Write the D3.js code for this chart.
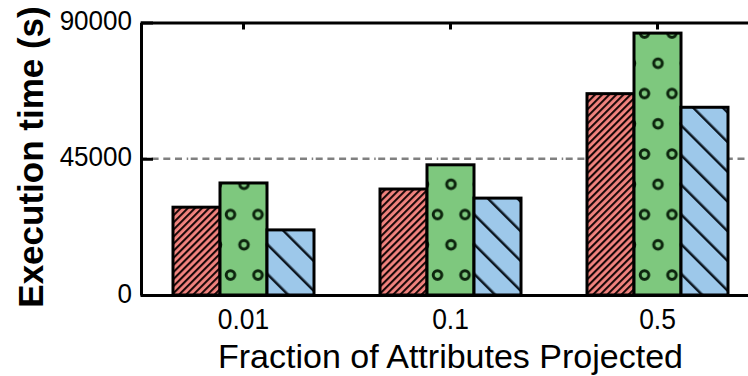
<!DOCTYPE html>
<html>
<head>
<meta charset="utf-8">
<script src="https://cdn.jsdelivr.net/npm/d3@7"></script>
<style>
  html, body { margin: 0; padding: 0; background: #fff; }
  svg { display: block; }
  text { font-family: "Liberation Sans", Arial, sans-serif; fill: #000; }
</style>
</head>
<body>
<svg id="chart" width="748" height="376"></svg>
<script>
// Categories on the x axis
const categories = ["0.01", "0.1", "0.5"];
// Series keys (one bar per series in each group)
const series = ["A", "B", "C"];
// Execution time in seconds for each series, per category
const valuesA = [29000, 35000, 66500];
const valuesB = [37000, 43000, 86500];
const valuesC = [21500, 32000, 62000];
// Y axis tick values
const yTicks = [0, 45000, 90000];
const yGrid = [45000];

const fills = { A: "#F3847F", B: "#7EC87E", C: "#9DC8EA" };
const patternIds = { A: "hatchFwd", B: "rings", C: "hatchBack" };

const seriesValues = { A: valuesA, B: valuesB, C: valuesC };
const rows = categories.map((c, i) => ({
  category: c,
  bars: series.map(s => ({ key: s, value: seriesValues[s][i] }))
}));

const svg = d3.select("#chart");

const plotLeft = 141, plotTop = 22.5, plotBottom = 295;
const x0 = d3.scaleBand().domain(categories).range([140, 761]);
const groupWidth = 141;
const x1 = d3.scaleBand().domain(series)
  .range([(x0.bandwidth() - groupWidth) / 2, (x0.bandwidth() + groupWidth) / 2]);
const y = d3.scaleLinear().domain([0, 90000]).range([plotBottom, plotTop]);

// Fill patterns
const defs = svg.append("defs");

const pA = defs.append("pattern").attr("id", "hatchFwd")
  .attr("patternUnits", "userSpaceOnUse")
  .attr("width", 5).attr("height", 10)
  .attr("patternTransform", "rotate(45)");
pA.append("rect").attr("width", 5).attr("height", 10).attr("fill", fills.A);
pA.append("rect").attr("width", 2.1).attr("height", 10).attr("fill", "#1a0808");

const pC = defs.append("pattern").attr("id", "hatchBack")
  .attr("patternUnits", "userSpaceOnUse")
  .attr("width", 21).attr("height", 10)
  .attr("patternTransform", "rotate(-45)");
pC.append("rect").attr("width", 21).attr("height", 10).attr("fill", fills.C);
pC.append("rect").attr("width", 2.5).attr("height", 10).attr("fill", "#0c1620");

const pB = defs.append("pattern").attr("id", "rings")
  .attr("patternUnits", "userSpaceOnUse")
  .attr("x", 0.5).attr("y", 23)
  .attr("width", 27.5).attr("height", 60.5);
pB.append("rect").attr("width", 27.5).attr("height", 60.5).attr("fill", fills.B);
[[7.5, 10], [21, 40.25]].forEach(([cx, cy]) => {
  pB.append("circle").attr("cx", cx).attr("cy", cy).attr("r", 4.3)
    .attr("fill", "none").attr("stroke", "#0c240d").attr("stroke-width", 3);
});

// Dash-dot reference line behind the bars
svg.append("g").selectAll("line").data(yGrid).join("line")
  .attr("x1", plotLeft).attr("x2", x0.range()[1])
  .attr("y1", d => y(d)).attr("y2", d => y(d))
  .attr("stroke", "#808080").attr("stroke-width", 2.4)
  .attr("stroke-dasharray", "7,4.7,7,4.7,7,4.7,7,4.7,7,4.7,1.5,2.5")
  .attr("stroke-dashoffset", 12.8);

// Grouped bars
svg.append("g").selectAll("g").data(rows).join("g")
  .attr("transform", d => `translate(${x0(d.category)},0)`)
  .selectAll("rect").data(d => d.bars).join("rect")
  .attr("x", d => x1(d.key))
  .attr("width", x1.bandwidth())
  .attr("y", d => y(d.value))
  .attr("height", d => y(0) - y(d.value))
  .attr("fill", d => `url(#${patternIds[d.key]})`)
  .attr("stroke", "#000").attr("stroke-width", 3);

// Left axis
const yAxis = svg.append("g").attr("transform", `translate(${plotLeft},0)`)
  .call(d3.axisLeft(y).tickValues(yTicks).tickSize(-12).tickSizeOuter(0).tickPadding(9)
    .tickFormat(d3.format("d")));
yAxis.select(".domain").attr("stroke-width", 3);
yAxis.selectAll(".tick line").attr("stroke-width", 3);
yAxis.selectAll(".tick text")
  .attr("font-size", 28)
  .attr("x", -9 / 0.93)
  .attr("dy", "0.25em")
  .attr("transform", "scale(0.93,1)")
  .style("font-family", "Liberation Sans, Arial, sans-serif");

// Top frame with inward ticks at category centres
const topAxis = svg.append("g").attr("transform", `translate(0,${plotTop})`)
  .call(d3.axisTop(x0).tickSize(-7).tickSizeOuter(0).tickFormat(""));
topAxis.select(".domain").attr("stroke-width", 3);
topAxis.selectAll(".tick line").attr("stroke-width", 3);

// Bottom axis with category labels
const xAxis = svg.append("g").attr("transform", `translate(0,${plotBottom})`)
  .call(d3.axisBottom(x0).tickSize(0).tickSizeOuter(0).tickPadding(12.7));
xAxis.select(".domain").attr("stroke-width", 3);
xAxis.selectAll(".tick text")
  .attr("font-size", 30)
  .attr("transform", "scale(0.88,1)")
  .style("font-family", "Liberation Sans, Arial, sans-serif");

// Axis titles
svg.append("text")
  .attr("transform", "translate(43,157) rotate(-90)")
  .attr("text-anchor", "middle")
  .attr("font-size", 35)
  .attr("font-weight", "bold")
  .text("Execution time (s)");

svg.append("text")
  .attr("x", 450.5).attr("y", 368)
  .attr("text-anchor", "middle")
  .attr("font-size", 34)
  .attr("textLength", 465)
  .attr("lengthAdjust", "spacingAndGlyphs")
  .text("Fraction of Attributes Projected");
</script>
</body>
</html>
